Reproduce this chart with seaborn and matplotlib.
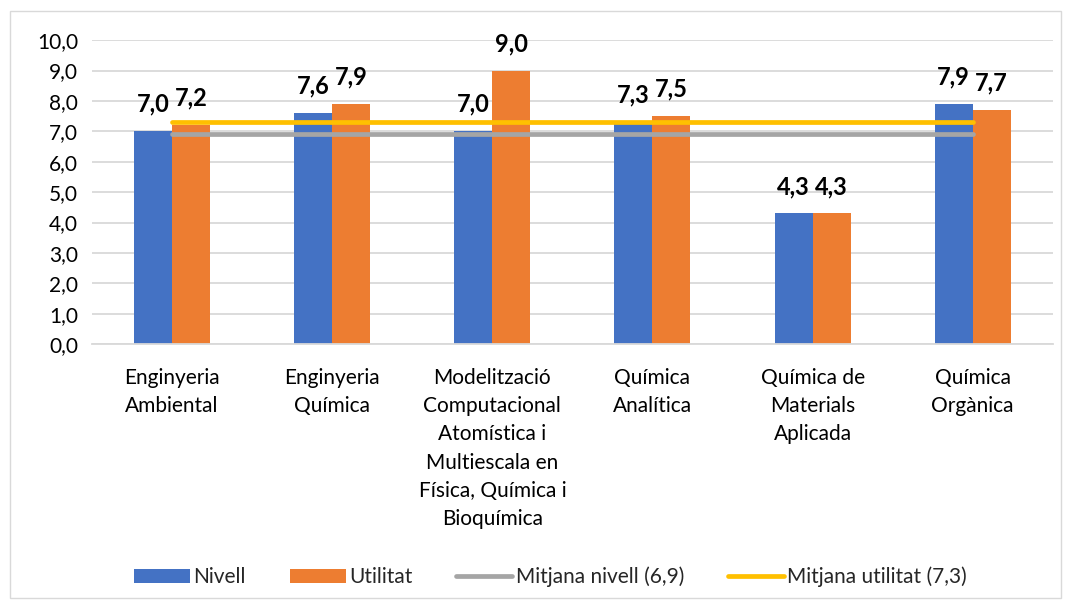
import matplotlib
matplotlib.use("Agg")
import matplotlib.pyplot as plt
import seaborn as sns
import numpy as np
import pandas as pd
from matplotlib.ticker import FuncFormatter, MultipleLocator
from matplotlib.patches import Rectangle, Patch
from matplotlib.lines import Line2D

categories = [
    "Enginyeria\nAmbiental",
    "Enginyeria\nQuímica",
    "Modelització\nComputacional\nAtomística i\nMultiescala en\nFísica, Química i\nBioquímica",
    "Química\nAnalítica",
    "Química de\nMaterials\nAplicada",
    "Química\nOrgànica",
]
nivell = [7.0, 7.6, 7.0, 7.3, 4.3, 7.9]
utilitat = [7.2, 7.9, 9.0, 7.5, 4.3, 7.7]
mitjana_nivell = 6.9
mitjana_utilitat = 7.3
series_names = ["Nivell", "Utilitat"]
line_names = ["Mitjana nivell (6,9)", "Mitjana utilitat (7,3)"]

BLUE = "#4472C4"
ORANGE = "#ED7D31"
GRAY = "#A5A5A5"
YELLOW = "#FFC000"

sns.set_theme(style="white")
plt.rcParams["font.family"] = ["Lato", "DejaVu Sans"]

df = pd.DataFrame({
    "cat": categories * 2,
    "serie": [series_names[0]] * len(categories) + [series_names[1]] * len(categories),
    "valor": nivell + utilitat,
})

fig = plt.figure(figsize=(10.71, 6.08), dpi=100)
ax = fig.add_axes([0.0859, 0.434, 0.8971, 0.500])

sns.barplot(data=df, x="cat", y="valor", hue="serie", order=categories,
            hue_order=series_names, palette=[BLUE, ORANGE], width=0.475,
            saturation=1, ax=ax, legend=False, linewidth=0, zorder=2)

pos = np.arange(len(categories))
sns.lineplot(x=pos, y=[mitjana_nivell] * len(categories), color=GRAY, lw=3.4,
             ax=ax, zorder=3, solid_capstyle="round")
sns.lineplot(x=pos, y=[mitjana_utilitat] * len(categories), color=YELLOW, lw=3.4,
             ax=ax, zorder=3, solid_capstyle="round")

fmt = lambda v: f"{v:.1f}".replace(".", ",")
for cont in ax.containers:
    for bar in cont:
        h = bar.get_height()
        ax.annotate(fmt(h), (bar.get_x() + bar.get_width() / 2, h),
                    xytext=(0, 14), textcoords="offset points",
                    ha="center", va="baseline", fontsize=17,
                    fontweight="bold", color="black", zorder=4)

ax.set_xlim(-0.5, len(categories) - 0.5)
ax.set_ylim(0, 10)
ax.yaxis.set_major_locator(MultipleLocator(1))
ax.yaxis.set_major_formatter(FuncFormatter(lambda v, p: fmt(v)))
ax.grid(axis="y", color="#D9D9D9", lw=1.3, zorder=0)
ax.set_axisbelow(True)
for s in ["left", "right", "top"]:
    ax.spines[s].set_visible(False)
ax.spines["bottom"].set_color("#D9D9D9")
ax.spines["bottom"].set_linewidth(1.3)
ax.tick_params(axis="y", length=0, labelsize=15, colors="black", pad=10)
ax.tick_params(axis="x", length=0, labelsize=15, colors="black", pad=17)
for t in ax.get_xticklabels():
    t.set_linespacing(1.52)
ax.set_xlabel("")
ax.set_ylabel("")

handles = [
    Patch(facecolor=BLUE, edgecolor="none"),
    Patch(facecolor=ORANGE, edgecolor="none"),
    Line2D([0], [0], color=GRAY, lw=3.4, solid_capstyle="round"),
    Line2D([0], [0], color=YELLOW, lw=3.4, solid_capstyle="round"),
]
fig.legend(handles, series_names + line_names, loc="center",
           bbox_to_anchor=(0.514, 0.051), ncol=4, frameon=False,
           fontsize=15, handlelength=2.7, handleheight=0.6,
           handletextpad=0.15, columnspacing=2.1)

fig.add_artist(Rectangle((0.0095, 0.016), 0.981, 0.966, transform=fig.transFigure,
                         fill=False, edgecolor="#D9D9D9", lw=1.0))

fig.savefig("out.png", dpi=100)
